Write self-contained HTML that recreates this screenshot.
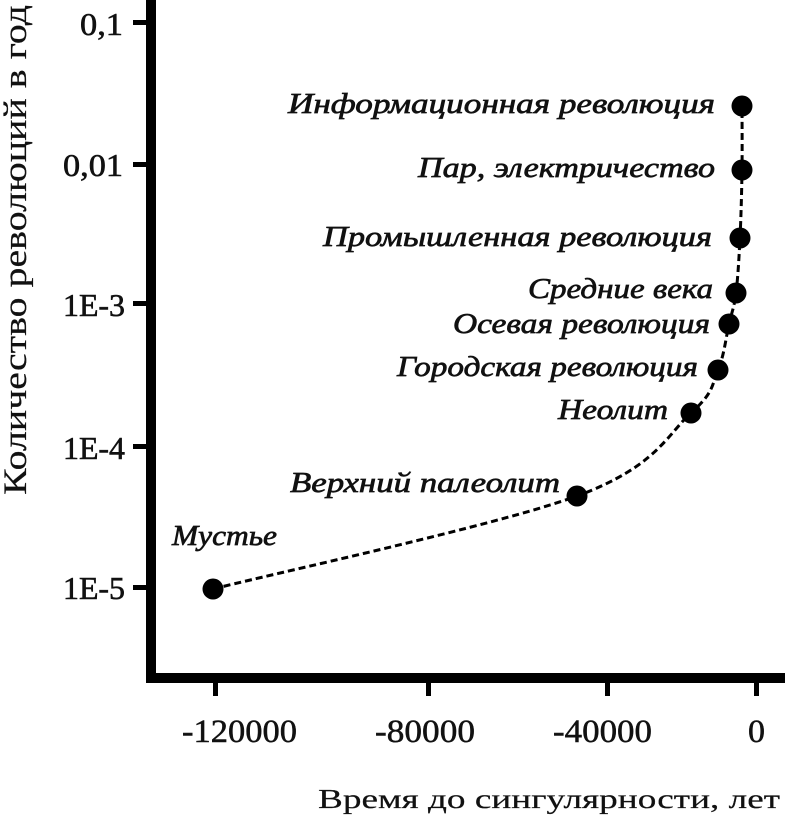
<!DOCTYPE html>
<html>
<head>
<meta charset="utf-8">
<style>
  html, body { margin: 0; padding: 0; background: #fff; }
  svg { display: block; }
  text { font-family: "Liberation Serif", "DejaVu Serif", serif; fill: #111; stroke: #111; stroke-width: 0.5px; }
  .it { font-style: italic; font-size: 29px; stroke-width: 0.7px; }
  .yt { font-size: 32px; stroke-width: 0.6px; }
  .xt { font-size: 33px; stroke-width: 0.5px; }
  .ttl { stroke-width: 0.2px; }
</style>
</head>
<body>
<svg width="785" height="823" viewBox="0 0 785 823" xmlns="http://www.w3.org/2000/svg">
  <rect width="785" height="823" fill="#fff"/>

  <!-- axes -->
  <rect x="146" y="0" width="10" height="682" fill="#000"/>
  <rect x="146" y="673" width="639" height="10" fill="#000"/>

  <!-- y ticks -->
  <rect x="133" y="20" width="14" height="5" fill="#000"/>
  <rect x="133" y="162" width="14" height="5" fill="#000"/>
  <rect x="133" y="301" width="14" height="5" fill="#000"/>
  <rect x="133" y="444" width="14" height="5" fill="#000"/>
  <rect x="133" y="585" width="14" height="5" fill="#000"/>

  <!-- x ticks -->
  <rect x="213" y="682" width="5" height="14" fill="#000"/>
  <rect x="426" y="682" width="5" height="14" fill="#000"/>
  <rect x="605" y="682" width="5" height="14" fill="#000"/>
  <rect x="754" y="682" width="5" height="14" fill="#000"/>

  <!-- y tick labels -->
  <text class="yt" x="80" y="35" textLength="43" lengthAdjust="spacingAndGlyphs">0,1</text>
  <text class="yt" x="63" y="176" textLength="60" lengthAdjust="spacingAndGlyphs">0,01</text>
  <text class="yt" x="63" y="316" textLength="62" lengthAdjust="spacingAndGlyphs">1E-3</text>
  <text class="yt" x="63" y="459" textLength="62" lengthAdjust="spacingAndGlyphs">1E-4</text>
  <text class="yt" x="63" y="599" textLength="62" lengthAdjust="spacingAndGlyphs">1E-5</text>

  <!-- x tick labels -->
  <text class="xt" x="182" y="742" textLength="115" lengthAdjust="spacingAndGlyphs">-120000</text>
  <text class="xt" x="375" y="742" textLength="100" lengthAdjust="spacingAndGlyphs">-80000</text>
  <text class="xt" x="553" y="742" textLength="99" lengthAdjust="spacingAndGlyphs">-40000</text>
  <text class="xt" x="748" y="742" textLength="17" lengthAdjust="spacingAndGlyphs">0</text>

  <!-- axis titles -->
  <text class="ttl" x="318" y="808" font-size="27" textLength="462" lengthAdjust="spacingAndGlyphs">Время до сингулярности, лет</text>
  <text class="ttl" transform="translate(26,495) rotate(-90)" x="0" y="0" font-size="33" textLength="490" lengthAdjust="spacingAndGlyphs">Количество революций в год</text>

  <!-- dashed curve -->
  <path d="M213,589 C273.7,573.5 497.3,525.3 577,496
           C656.7,466.7 667.5,434 691,413
           C714.5,392 711.7,384.8 718,370
           C724.3,355.2 726,336.8 729,324
           C732,311.2 734.2,307.3 736,293
           C737.8,278.7 739,258.5 740,238
           C741,217.5 741.7,192 742,170
           C742.3,148 742,116.7 742,106"
        fill="none" stroke="#000" stroke-width="3" stroke-dasharray="7 4"/>

  <!-- points -->
  <g fill="#000">
    <circle cx="213" cy="589" r="10.5"/>
    <circle cx="577" cy="496" r="10.5"/>
    <circle cx="691" cy="413" r="10.5"/>
    <circle cx="718" cy="370" r="10.5"/>
    <circle cx="729" cy="324" r="10.5"/>
    <circle cx="736" cy="293" r="10.5"/>
    <circle cx="740" cy="238" r="10.5"/>
    <circle cx="742" cy="170" r="10.5"/>
    <circle cx="742" cy="106" r="10.5"/>
  </g>

  <!-- point labels -->
  <text class="it" x="288" y="113" textLength="427" lengthAdjust="spacingAndGlyphs">Информационная революция</text>
  <text class="it" x="418" y="177" textLength="297" lengthAdjust="spacingAndGlyphs">Пар, электричество</text>
  <text class="it" x="323" y="246" textLength="389" lengthAdjust="spacingAndGlyphs">Промышленная революция</text>
  <text class="it" x="528" y="298" textLength="185" lengthAdjust="spacingAndGlyphs">Средние века</text>
  <text class="it" x="453" y="333" textLength="257" lengthAdjust="spacingAndGlyphs">Осевая революция</text>
  <text class="it" x="397" y="376" textLength="301" lengthAdjust="spacingAndGlyphs">Городская революция</text>
  <text class="it" x="558" y="419" textLength="110" lengthAdjust="spacingAndGlyphs">Неолит</text>
  <text class="it" x="290" y="492" textLength="270" lengthAdjust="spacingAndGlyphs">Верхний палеолит</text>
  <text class="it" x="172" y="545" textLength="105" lengthAdjust="spacingAndGlyphs">Мустье</text>
</svg>
</body>
</html>
